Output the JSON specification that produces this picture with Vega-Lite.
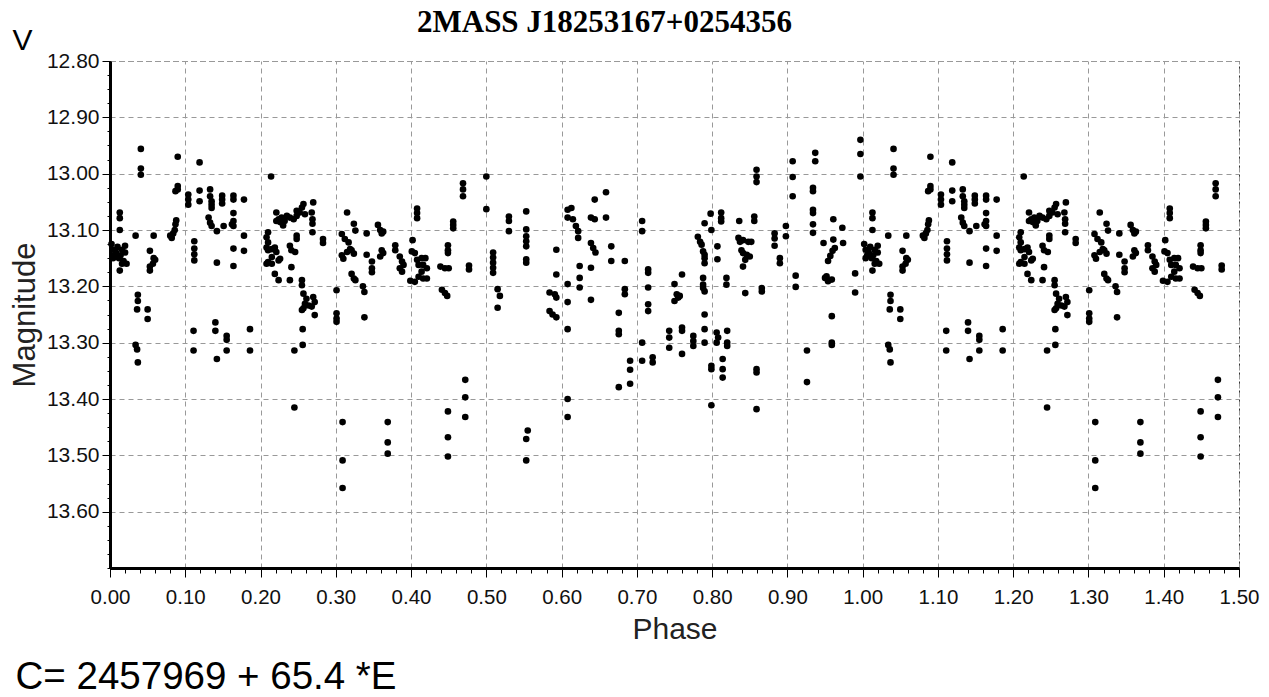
{
"$schema": "https://vega.github.io/schema/vega-lite/v6.json",
"width": 1129,
"height": 507,
"autosize": {"type": "none"},
"padding": {"left": 110, "top": 61, "right": 30, "bottom": 129},
"background": "white",
"config": {"view": {"stroke": "#333333", "strokeDash": [5, 4], "strokeWidth": 1}},
"data": {"values": [
{"phase":0.013,"mag":13.069},{"phase":0.013,"mag":13.079},{"phase":0.013,"mag":13.100},{"phase":0.002,"mag":13.125},{"phase":0.004,"mag":13.135},{"phase":0.006,"mag":13.145},{"phase":0.008,"mag":13.140},{"phase":0.010,"mag":13.130},{"phase":0.012,"mag":13.150},{"phase":0.014,"mag":13.145},{"phase":0.016,"mag":13.135},{"phase":0.018,"mag":13.155},{"phase":0.020,"mag":13.140},{"phase":0.022,"mag":13.160},{"phase":0.004,"mag":13.150},{"phase":0.016,"mag":13.160},{"phase":0.020,"mag":13.128},{"phase":0.013,"mag":13.172},{"phase":0.034,"mag":13.110},{"phase":0.058,"mag":13.110},{"phase":0.053,"mag":13.137},{"phase":0.058,"mag":13.150},{"phase":0.060,"mag":13.153},{"phase":0.057,"mag":13.160},{"phase":0.053,"mag":13.165},{"phase":0.053,"mag":13.172},{"phase":0.041,"mag":12.956},{"phase":0.041,"mag":12.991},{"phase":0.041,"mag":13.002},{"phase":0.037,"mag":13.215},{"phase":0.037,"mag":13.226},{"phase":0.036,"mag":13.241},{"phase":0.050,"mag":13.241},{"phase":0.050,"mag":13.258},{"phase":0.034,"mag":13.304},{"phase":0.036,"mag":13.312},{"phase":0.037,"mag":13.335},{"phase":0.090,"mag":12.970},{"phase":0.090,"mag":13.022},{"phase":0.090,"mag":13.028},{"phase":0.087,"mag":13.031},{"phase":0.080,"mag":13.110},{"phase":0.082,"mag":13.114},{"phase":0.084,"mag":13.106},{"phase":0.086,"mag":13.100},{"phase":0.087,"mag":13.090},{"phase":0.088,"mag":13.083},{"phase":0.112,"mag":13.120},{"phase":0.112,"mag":13.133},{"phase":0.112,"mag":13.143},{"phase":0.112,"mag":13.154},
{"phase":0.119,"mag":12.980},{"phase":0.104,"mag":13.037},{"phase":0.104,"mag":13.046},{"phase":0.104,"mag":13.055},{"phase":0.119,"mag":13.030},{"phase":0.119,"mag":13.049},{"phase":0.133,"mag":13.028},{"phase":0.133,"mag":13.040},{"phase":0.135,"mag":13.049},{"phase":0.135,"mag":13.055},{"phase":0.135,"mag":13.061},{"phase":0.149,"mag":13.039},{"phase":0.149,"mag":13.046},{"phase":0.149,"mag":13.053},{"phase":0.164,"mag":13.039},{"phase":0.164,"mag":13.046},{"phase":0.178,"mag":13.046},{"phase":0.131,"mag":13.078},{"phase":0.133,"mag":13.087},{"phase":0.135,"mag":13.093},{"phase":0.142,"mag":13.102},{"phase":0.151,"mag":13.093},{"phase":0.164,"mag":13.070},{"phase":0.164,"mag":13.084},{"phase":0.162,"mag":13.090},{"phase":0.164,"mag":13.093},{"phase":0.178,"mag":13.110},{"phase":0.178,"mag":13.137},{"phase":0.164,"mag":13.133},{"phase":0.142,"mag":13.158},{"phase":0.164,"mag":13.164},{"phase":0.111,"mag":13.279},{"phase":0.111,"mag":13.314},{"phase":0.140,"mag":13.264},{"phase":0.140,"mag":13.279},{"phase":0.155,"mag":13.288},{"phase":0.155,"mag":13.295},{"phase":0.155,"mag":13.314},{"phase":0.142,"mag":13.329},{"phase":0.186,"mag":13.276},{"phase":0.186,"mag":13.314},
{"phase":0.214,"mag":13.005},{"phase":0.221,"mag":13.069},{"phase":0.224,"mag":13.081},{"phase":0.228,"mag":13.078},{"phase":0.232,"mag":13.084},{"phase":0.235,"mag":13.075},{"phase":0.239,"mag":13.078},{"phase":0.244,"mag":13.081},{"phase":0.248,"mag":13.075},{"phase":0.252,"mag":13.069},{"phase":0.255,"mag":13.060},{"phase":0.257,"mag":13.054},{"phase":0.270,"mag":13.051},{"phase":0.268,"mag":13.069},{"phase":0.269,"mag":13.081},{"phase":0.269,"mag":13.089},{"phase":0.269,"mag":13.104},{"phase":0.230,"mag":13.092},{"phase":0.226,"mag":13.086},{"phase":0.221,"mag":13.084},{"phase":0.248,"mag":13.066},{"phase":0.259,"mag":13.072},{"phase":0.210,"mag":13.104},{"phase":0.208,"mag":13.113},{"phase":0.210,"mag":13.122},{"phase":0.208,"mag":13.131},{"phase":0.210,"mag":13.136},{"phase":0.215,"mag":13.134},{"phase":0.219,"mag":13.131},{"phase":0.221,"mag":13.139},{"phase":0.215,"mag":13.148},{"phase":0.210,"mag":13.157},{"phase":0.208,"mag":13.160},{"phase":0.215,"mag":13.160},{"phase":0.224,"mag":13.154},{"phase":0.226,"mag":13.151},{"phase":0.219,"mag":13.178},{"phase":0.224,"mag":13.189},{"phase":0.239,"mag":13.189},{"phase":0.241,"mag":13.166},{"phase":0.248,"mag":13.110},{"phase":0.248,"mag":13.116},{"phase":0.239,"mag":13.128},{"phase":0.241,"mag":13.136},{"phase":0.246,"mag":13.139},{"phase":0.283,"mag":13.116},{"phase":0.283,"mag":13.123},{"phase":0.255,"mag":13.189},{"phase":0.255,"mag":13.198},{"phase":0.257,"mag":13.213},{"phase":0.261,"mag":13.222},{"phase":0.259,"mag":13.231},{"phase":0.257,"mag":13.239},{"phase":0.255,"mag":13.242},{"phase":0.264,"mag":13.234},{"phase":0.270,"mag":13.219},{"phase":0.272,"mag":13.228},{"phase":0.272,"mag":13.251},{"phase":0.268,"mag":13.236},{"phase":0.256,"mag":13.276},{"phase":0.256,"mag":13.304},{"phase":0.245,"mag":13.314},{"phase":0.245,"mag":13.415},
{"phase":0.315,"mag":13.069},{"phase":0.324,"mag":13.089},{"phase":0.326,"mag":13.101},{"phase":0.308,"mag":13.107},{"phase":0.312,"mag":13.116},{"phase":0.317,"mag":13.122},{"phase":0.319,"mag":13.134},{"phase":0.315,"mag":13.139},{"phase":0.308,"mag":13.145},{"phase":0.310,"mag":13.151},{"phase":0.321,"mag":13.136},{"phase":0.324,"mag":13.142},{"phase":0.321,"mag":13.178},{"phase":0.324,"mag":13.186},{"phase":0.326,"mag":13.189},{"phase":0.301,"mag":13.207},{"phase":0.301,"mag":13.248},{"phase":0.301,"mag":13.257},{"phase":0.301,"mag":13.263},{"phase":0.336,"mag":13.200},{"phase":0.338,"mag":13.210},{"phase":0.338,"mag":13.255},{"phase":0.309,"mag":13.441},{"phase":0.309,"mag":13.509},{"phase":0.309,"mag":13.558},{"phase":0.369,"mag":13.441},{"phase":0.369,"mag":13.477},{"phase":0.369,"mag":13.497},{"phase":0.341,"mag":13.106},{"phase":0.356,"mag":13.091},{"phase":0.359,"mag":13.100},{"phase":0.361,"mag":13.106},{"phase":0.363,"mag":13.103},{"phase":0.341,"mag":13.144},{"phase":0.348,"mag":13.156},{"phase":0.348,"mag":13.168},{"phase":0.348,"mag":13.175},{"phase":0.361,"mag":13.136},{"phase":0.363,"mag":13.141},{"phase":0.359,"mag":13.147},{"phase":0.379,"mag":13.127},{"phase":0.379,"mag":13.136},{"phase":0.385,"mag":13.147},{"phase":0.388,"mag":13.156},{"phase":0.390,"mag":13.162},{"phase":0.385,"mag":13.168},{"phase":0.388,"mag":13.174},{"phase":0.402,"mag":13.118},{"phase":0.401,"mag":13.138},{"phase":0.405,"mag":13.141},{"phase":0.408,"mag":13.153},{"phase":0.414,"mag":13.150},{"phase":0.419,"mag":13.150},{"phase":0.410,"mag":13.162},{"phase":0.416,"mag":13.162},{"phase":0.421,"mag":13.168},{"phase":0.414,"mag":13.174},{"phase":0.410,"mag":13.183},{"phase":0.416,"mag":13.186},{"phase":0.405,"mag":13.192},{"phase":0.399,"mag":13.190},{"phase":0.421,"mag":13.186},{"phase":0.408,"mag":13.062},{"phase":0.408,"mag":13.070},{"phase":0.408,"mag":13.079},
{"phase":0.439,"mag":13.165},{"phase":0.445,"mag":13.168},{"phase":0.450,"mag":13.168},{"phase":0.441,"mag":13.206},{"phase":0.445,"mag":13.212},{"phase":0.448,"mag":13.217},{"phase":0.449,"mag":13.127},{"phase":0.449,"mag":13.136},{"phase":0.449,"mag":13.141},{"phase":0.456,"mag":13.085},{"phase":0.456,"mag":13.091},{"phase":0.456,"mag":13.097},{"phase":0.477,"mag":13.163},{"phase":0.477,"mag":13.170},{"phase":0.469,"mag":13.017},{"phase":0.469,"mag":13.028},{"phase":0.469,"mag":13.040},{"phase":0.449,"mag":13.422},{"phase":0.449,"mag":13.468},{"phase":0.449,"mag":13.502},{"phase":0.472,"mag":13.366},{"phase":0.472,"mag":13.397},{"phase":0.472,"mag":13.432},
{"phase":0.500,"mag":13.005},{"phase":0.500,"mag":13.063},{"phase":0.530,"mag":13.076},{"phase":0.530,"mag":13.084},{"phase":0.530,"mag":13.102},{"phase":0.509,"mag":13.140},{"phase":0.509,"mag":13.149},{"phase":0.509,"mag":13.158},{"phase":0.509,"mag":13.167},{"phase":0.509,"mag":13.176},{"phase":0.515,"mag":13.205},{"phase":0.518,"mag":13.217},{"phase":0.515,"mag":13.238},{"phase":0.553,"mag":13.067},{"phase":0.553,"mag":13.099},{"phase":0.553,"mag":13.111},{"phase":0.553,"mag":13.120},{"phase":0.553,"mag":13.129},{"phase":0.553,"mag":13.152},{"phase":0.553,"mag":13.158},{"phase":0.555,"mag":13.456},{"phase":0.553,"mag":13.471},{"phase":0.553,"mag":13.509},{"phase":0.593,"mag":13.135},{"phase":0.593,"mag":13.179},{"phase":0.584,"mag":13.211},{"phase":0.591,"mag":13.214},{"phase":0.593,"mag":13.220},{"phase":0.584,"mag":13.244},{"phase":0.588,"mag":13.250},{"phase":0.593,"mag":13.255},
{"phase":0.608,"mag":13.064},{"phase":0.613,"mag":13.061},{"phase":0.608,"mag":13.078},{"phase":0.615,"mag":13.081},{"phase":0.619,"mag":13.093},{"phase":0.622,"mag":13.102},{"phase":0.622,"mag":13.114},{"phase":0.608,"mag":13.196},{"phase":0.608,"mag":13.228},{"phase":0.608,"mag":13.276},{"phase":0.608,"mag":13.400},{"phase":0.608,"mag":13.432},{"phase":0.624,"mag":13.164},{"phase":0.624,"mag":13.185},{"phase":0.624,"mag":13.202},{"phase":0.639,"mag":13.078},{"phase":0.644,"mag":13.081},{"phase":0.644,"mag":13.046},{"phase":0.659,"mag":13.033},{"phase":0.659,"mag":13.078},{"phase":0.639,"mag":13.123},{"phase":0.642,"mag":13.132},{"phase":0.645,"mag":13.140},{"phase":0.639,"mag":13.167},{"phase":0.639,"mag":13.224},{"phase":0.666,"mag":13.129},{"phase":0.666,"mag":13.155},{"phase":0.684,"mag":13.155},{"phase":0.684,"mag":13.205},{"phase":0.684,"mag":13.214},{"phase":0.676,"mag":13.247},{"phase":0.676,"mag":13.279},{"phase":0.676,"mag":13.285},{"phase":0.676,"mag":13.379},{"phase":0.691,"mag":13.332},{"phase":0.691,"mag":13.348},{"phase":0.691,"mag":13.373},
{"phase":0.707,"mag":13.084},{"phase":0.707,"mag":13.102},{"phase":0.715,"mag":13.170},{"phase":0.715,"mag":13.176},{"phase":0.715,"mag":13.202},{"phase":0.715,"mag":13.232},{"phase":0.715,"mag":13.244},{"phase":0.707,"mag":13.300},{"phase":0.707,"mag":13.332},{"phase":0.721,"mag":13.326},{"phase":0.721,"mag":13.335},{"phase":0.743,"mag":13.279},{"phase":0.743,"mag":13.291},{"phase":0.743,"mag":13.309},{"phase":0.760,"mag":13.179},{"phase":0.750,"mag":13.196},{"phase":0.753,"mag":13.214},{"phase":0.755,"mag":13.220},{"phase":0.757,"mag":13.217},{"phase":0.750,"mag":13.226},{"phase":0.760,"mag":13.273},{"phase":0.760,"mag":13.279},{"phase":0.760,"mag":13.320},{"phase":0.775,"mag":13.288},{"phase":0.775,"mag":13.297},{"phase":0.775,"mag":13.306},{"phase":0.798,"mag":13.071},{"phase":0.812,"mag":13.069},{"phase":0.812,"mag":13.079},{"phase":0.812,"mag":13.085},{"phase":0.790,"mag":13.088},{"phase":0.799,"mag":13.100},{"phase":0.781,"mag":13.112},{"phase":0.784,"mag":13.121},{"phase":0.786,"mag":13.126},{"phase":0.788,"mag":13.138},{"phase":0.790,"mag":13.144},{"phase":0.790,"mag":13.150},{"phase":0.790,"mag":13.159},{"phase":0.807,"mag":13.129},{"phase":0.807,"mag":13.152},{"phase":0.788,"mag":13.185},{"phase":0.788,"mag":13.197},{"phase":0.788,"mag":13.203},{"phase":0.790,"mag":13.209},{"phase":0.819,"mag":13.185},{"phase":0.819,"mag":13.197},{"phase":0.790,"mag":13.250},{"phase":0.790,"mag":13.276},{"phase":0.790,"mag":13.300},{"phase":0.806,"mag":13.282},{"phase":0.808,"mag":13.291},{"phase":0.806,"mag":13.300},{"phase":0.820,"mag":13.279},{"phase":0.820,"mag":13.300},{"phase":0.820,"mag":13.306},{"phase":0.799,"mag":13.341},{"phase":0.799,"mag":13.347},{"phase":0.814,"mag":13.329},{"phase":0.814,"mag":13.347},{"phase":0.814,"mag":13.362},{"phase":0.799,"mag":13.411},
{"phase":0.836,"mag":13.084},{"phase":0.856,"mag":13.076},{"phase":0.856,"mag":13.084},{"phase":0.835,"mag":13.114},{"phase":0.837,"mag":13.121},{"phase":0.841,"mag":13.118},{"phase":0.848,"mag":13.121},{"phase":0.852,"mag":13.121},{"phase":0.839,"mag":13.136},{"phase":0.841,"mag":13.141},{"phase":0.846,"mag":13.144},{"phase":0.850,"mag":13.147},{"phase":0.844,"mag":13.153},{"phase":0.841,"mag":13.165},{"phase":0.883,"mag":13.106},{"phase":0.883,"mag":13.115},{"phase":0.883,"mag":13.128},{"phase":0.890,"mag":13.150},{"phase":0.890,"mag":13.159},{"phase":0.898,"mag":13.093},{"phase":0.898,"mag":13.111},{"phase":0.911,"mag":13.181},{"phase":0.911,"mag":13.201},{"phase":0.844,"mag":13.212},{"phase":0.866,"mag":13.203},{"phase":0.866,"mag":13.209},{"phase":0.859,"mag":12.993},{"phase":0.859,"mag":13.005},{"phase":0.859,"mag":13.015},{"phase":0.859,"mag":13.347},{"phase":0.859,"mag":13.353},{"phase":0.859,"mag":13.418},{"phase":0.907,"mag":12.978},{"phase":0.907,"mag":13.006},{"phase":0.907,"mag":13.040},{"phase":0.926,"mag":13.314},{"phase":0.926,"mag":13.370},{"phase":0.937,"mag":12.963},{"phase":0.937,"mag":12.978},{"phase":0.934,"mag":13.025},{"phase":0.934,"mag":13.031},{"phase":0.934,"mag":13.064},{"phase":0.934,"mag":13.070},{"phase":0.934,"mag":13.090},{"phase":0.934,"mag":13.105},{"phase":0.961,"mag":13.081},{"phase":0.973,"mag":13.096},{"phase":0.974,"mag":13.123},{"phase":0.948,"mag":13.123},{"phase":0.961,"mag":13.117},{"phase":0.963,"mag":13.132},{"phase":0.960,"mag":13.137},{"phase":0.957,"mag":13.146},{"phase":0.954,"mag":13.155},{"phase":0.952,"mag":13.182},{"phase":0.954,"mag":13.191},{"phase":0.959,"mag":13.188},{"phase":0.950,"mag":13.185},{"phase":0.959,"mag":13.253},{"phase":0.959,"mag":13.300},{"phase":0.959,"mag":13.304},{"phase":0.990,"mag":13.177},{"phase":0.990,"mag":13.211},{"phase":0.997,"mag":12.940},{"phase":0.997,"mag":12.965},{"phase":0.997,"mag":13.005},
{"phase":1.013,"mag":13.069},{"phase":1.013,"mag":13.079},{"phase":1.013,"mag":13.100},{"phase":1.002,"mag":13.125},{"phase":1.004,"mag":13.135},{"phase":1.006,"mag":13.145},{"phase":1.008,"mag":13.140},{"phase":1.010,"mag":13.130},{"phase":1.012,"mag":13.150},{"phase":1.014,"mag":13.145},{"phase":1.016,"mag":13.135},{"phase":1.018,"mag":13.155},{"phase":1.020,"mag":13.140},{"phase":1.022,"mag":13.160},{"phase":1.004,"mag":13.150},{"phase":1.016,"mag":13.160},{"phase":1.020,"mag":13.128},{"phase":1.013,"mag":13.172},{"phase":1.034,"mag":13.110},{"phase":1.058,"mag":13.110},{"phase":1.053,"mag":13.137},{"phase":1.058,"mag":13.150},{"phase":1.060,"mag":13.153},{"phase":1.057,"mag":13.160},{"phase":1.053,"mag":13.165},{"phase":1.053,"mag":13.172},{"phase":1.041,"mag":12.956},{"phase":1.041,"mag":12.991},{"phase":1.041,"mag":13.002},{"phase":1.037,"mag":13.215},{"phase":1.037,"mag":13.226},{"phase":1.036,"mag":13.241},{"phase":1.050,"mag":13.241},{"phase":1.050,"mag":13.258},{"phase":1.034,"mag":13.304},{"phase":1.036,"mag":13.312},{"phase":1.037,"mag":13.335},{"phase":1.090,"mag":12.970},{"phase":1.090,"mag":13.022},{"phase":1.090,"mag":13.028},{"phase":1.087,"mag":13.031},{"phase":1.080,"mag":13.110},{"phase":1.082,"mag":13.114},{"phase":1.084,"mag":13.106},{"phase":1.086,"mag":13.100},{"phase":1.087,"mag":13.090},{"phase":1.088,"mag":13.083},{"phase":1.112,"mag":13.120},{"phase":1.112,"mag":13.133},{"phase":1.112,"mag":13.143},{"phase":1.112,"mag":13.154},
{"phase":1.119,"mag":12.980},{"phase":1.104,"mag":13.037},{"phase":1.104,"mag":13.046},{"phase":1.104,"mag":13.055},{"phase":1.119,"mag":13.030},{"phase":1.119,"mag":13.049},{"phase":1.133,"mag":13.028},{"phase":1.133,"mag":13.040},{"phase":1.135,"mag":13.049},{"phase":1.135,"mag":13.055},{"phase":1.135,"mag":13.061},{"phase":1.149,"mag":13.039},{"phase":1.149,"mag":13.046},{"phase":1.149,"mag":13.053},{"phase":1.164,"mag":13.039},{"phase":1.164,"mag":13.046},{"phase":1.178,"mag":13.046},{"phase":1.131,"mag":13.078},{"phase":1.133,"mag":13.087},{"phase":1.135,"mag":13.093},{"phase":1.142,"mag":13.102},{"phase":1.151,"mag":13.093},{"phase":1.164,"mag":13.070},{"phase":1.164,"mag":13.084},{"phase":1.162,"mag":13.090},{"phase":1.164,"mag":13.093},{"phase":1.178,"mag":13.110},{"phase":1.178,"mag":13.137},{"phase":1.164,"mag":13.133},{"phase":1.142,"mag":13.158},{"phase":1.164,"mag":13.164},{"phase":1.111,"mag":13.279},{"phase":1.111,"mag":13.314},{"phase":1.140,"mag":13.264},{"phase":1.140,"mag":13.279},{"phase":1.155,"mag":13.288},{"phase":1.155,"mag":13.295},{"phase":1.155,"mag":13.314},{"phase":1.142,"mag":13.329},{"phase":1.186,"mag":13.276},{"phase":1.186,"mag":13.314},
{"phase":1.214,"mag":13.005},{"phase":1.221,"mag":13.069},{"phase":1.224,"mag":13.081},{"phase":1.228,"mag":13.078},{"phase":1.232,"mag":13.084},{"phase":1.235,"mag":13.075},{"phase":1.239,"mag":13.078},{"phase":1.244,"mag":13.081},{"phase":1.248,"mag":13.075},{"phase":1.252,"mag":13.069},{"phase":1.255,"mag":13.060},{"phase":1.257,"mag":13.054},{"phase":1.270,"mag":13.051},{"phase":1.268,"mag":13.069},{"phase":1.269,"mag":13.081},{"phase":1.269,"mag":13.089},{"phase":1.269,"mag":13.104},{"phase":1.230,"mag":13.092},{"phase":1.226,"mag":13.086},{"phase":1.221,"mag":13.084},{"phase":1.248,"mag":13.066},{"phase":1.259,"mag":13.072},{"phase":1.210,"mag":13.104},{"phase":1.208,"mag":13.113},{"phase":1.210,"mag":13.122},{"phase":1.208,"mag":13.131},{"phase":1.210,"mag":13.136},{"phase":1.215,"mag":13.134},{"phase":1.219,"mag":13.131},{"phase":1.221,"mag":13.139},{"phase":1.215,"mag":13.148},{"phase":1.210,"mag":13.157},{"phase":1.208,"mag":13.160},{"phase":1.215,"mag":13.160},{"phase":1.224,"mag":13.154},{"phase":1.226,"mag":13.151},{"phase":1.219,"mag":13.178},{"phase":1.224,"mag":13.189},{"phase":1.239,"mag":13.189},{"phase":1.241,"mag":13.166},{"phase":1.248,"mag":13.110},{"phase":1.248,"mag":13.116},{"phase":1.239,"mag":13.128},{"phase":1.241,"mag":13.136},{"phase":1.246,"mag":13.139},{"phase":1.283,"mag":13.116},{"phase":1.283,"mag":13.123},{"phase":1.255,"mag":13.189},{"phase":1.255,"mag":13.198},{"phase":1.257,"mag":13.213},{"phase":1.261,"mag":13.222},{"phase":1.259,"mag":13.231},{"phase":1.257,"mag":13.239},{"phase":1.255,"mag":13.242},{"phase":1.264,"mag":13.234},{"phase":1.270,"mag":13.219},{"phase":1.272,"mag":13.228},{"phase":1.272,"mag":13.251},{"phase":1.268,"mag":13.236},{"phase":1.256,"mag":13.276},{"phase":1.256,"mag":13.304},{"phase":1.245,"mag":13.314},{"phase":1.245,"mag":13.415},
{"phase":1.315,"mag":13.069},{"phase":1.324,"mag":13.089},{"phase":1.326,"mag":13.101},{"phase":1.308,"mag":13.107},{"phase":1.312,"mag":13.116},{"phase":1.317,"mag":13.122},{"phase":1.319,"mag":13.134},{"phase":1.315,"mag":13.139},{"phase":1.308,"mag":13.145},{"phase":1.310,"mag":13.151},{"phase":1.321,"mag":13.136},{"phase":1.324,"mag":13.142},{"phase":1.321,"mag":13.178},{"phase":1.324,"mag":13.186},{"phase":1.326,"mag":13.189},{"phase":1.301,"mag":13.207},{"phase":1.301,"mag":13.248},{"phase":1.301,"mag":13.257},{"phase":1.301,"mag":13.263},{"phase":1.336,"mag":13.200},{"phase":1.338,"mag":13.210},{"phase":1.338,"mag":13.255},{"phase":1.309,"mag":13.441},{"phase":1.309,"mag":13.509},{"phase":1.309,"mag":13.558},{"phase":1.369,"mag":13.441},{"phase":1.369,"mag":13.477},{"phase":1.369,"mag":13.497},{"phase":1.341,"mag":13.106},{"phase":1.356,"mag":13.091},{"phase":1.359,"mag":13.100},{"phase":1.361,"mag":13.106},{"phase":1.363,"mag":13.103},{"phase":1.341,"mag":13.144},{"phase":1.348,"mag":13.156},{"phase":1.348,"mag":13.168},{"phase":1.348,"mag":13.175},{"phase":1.361,"mag":13.136},{"phase":1.363,"mag":13.141},{"phase":1.359,"mag":13.147},{"phase":1.379,"mag":13.127},{"phase":1.379,"mag":13.136},{"phase":1.385,"mag":13.147},{"phase":1.388,"mag":13.156},{"phase":1.390,"mag":13.162},{"phase":1.385,"mag":13.168},{"phase":1.388,"mag":13.174},{"phase":1.402,"mag":13.118},{"phase":1.401,"mag":13.138},{"phase":1.405,"mag":13.141},{"phase":1.408,"mag":13.153},{"phase":1.414,"mag":13.150},{"phase":1.419,"mag":13.150},{"phase":1.410,"mag":13.162},{"phase":1.416,"mag":13.162},{"phase":1.421,"mag":13.168},{"phase":1.414,"mag":13.174},{"phase":1.410,"mag":13.183},{"phase":1.416,"mag":13.186},{"phase":1.405,"mag":13.192},{"phase":1.399,"mag":13.190},{"phase":1.421,"mag":13.186},{"phase":1.408,"mag":13.062},{"phase":1.408,"mag":13.070},{"phase":1.408,"mag":13.079},
{"phase":1.439,"mag":13.165},{"phase":1.445,"mag":13.168},{"phase":1.450,"mag":13.168},{"phase":1.441,"mag":13.206},{"phase":1.445,"mag":13.212},{"phase":1.448,"mag":13.217},{"phase":1.449,"mag":13.127},{"phase":1.449,"mag":13.136},{"phase":1.449,"mag":13.141},{"phase":1.456,"mag":13.085},{"phase":1.456,"mag":13.091},{"phase":1.456,"mag":13.097},{"phase":1.477,"mag":13.163},{"phase":1.477,"mag":13.170},{"phase":1.469,"mag":13.017},{"phase":1.469,"mag":13.028},{"phase":1.469,"mag":13.040},{"phase":1.449,"mag":13.422},{"phase":1.449,"mag":13.468},{"phase":1.449,"mag":13.502},{"phase":1.472,"mag":13.366},{"phase":1.472,"mag":13.397},{"phase":1.472,"mag":13.432}
]},
"layer": [
{
"mark": {"type": "point", "filled": true, "shape": "circle", "size": 44, "color": "black", "opacity": 1},
"encoding": {
"x": {"field": "phase", "type": "quantitative", "scale": {"domain": [0, 1.5], "nice": false, "zero": false},
 "axis": {"values": [0,0.1,0.2,0.3,0.4,0.5,0.6,0.7,0.8,0.9,1.0,1.1,1.2,1.3,1.4,1.5], "format": ".2f", "grid": true, "gridColor": "#999999", "gridDash": [5,4], "gridWidth": 1, "domain": true, "domainColor": "black", "domainWidth": 3, "ticks": true, "tickColor": "black", "tickSize": 9, "tickWidth": 1, "labelFont": "Liberation Sans", "labelFontSize": 20.5, "labelColor": "#111111", "labelPadding": 10, "labelFlush": false, "labelOverlap": false, "title": "Phase", "titleFont": "Liberation Sans", "titleFontSize": 30, "titleFontWeight": "normal", "titleColor": "#222222", "titleY": 70, "titleBaseline": "alphabetic"}},
"y": {"field": "mag", "type": "quantitative", "scale": {"domain": [12.8, 13.7], "reverse": true, "nice": false, "zero": false},
 "axis": {"values": [12.8,12.9,13.0,13.1,13.2,13.3,13.4,13.5,13.6], "format": ".2f", "grid": true, "gridColor": "#999999", "gridDash": [5,4], "gridWidth": 1, "domain": true, "domainColor": "black", "domainWidth": 3, "ticks": true, "tickColor": "black", "tickSize": 8, "tickWidth": 1, "labelFont": "Liberation Sans", "labelFontSize": 21, "labelColor": "#111111", "labelPadding": 3, "labelFlush": false, "labelOverlap": false, "title": "Magnitude", "titleFont": "Liberation Sans", "titleFontSize": 31, "titleFontWeight": "normal", "titleColor": "#222222", "titleX": -85, "titleBaseline": "middle"}}
}
},
{
"mark": {"type": "point", "opacity": 0},
"encoding": {
"x": {"field": "phase", "type": "quantitative",
 "axis": {"orient": "bottom", "values": [0,0.02,0.04,0.06,0.08,0.1,0.12,0.14,0.16,0.18,0.2,0.22,0.24,0.26,0.28,0.3,0.32,0.34,0.36,0.38,0.4,0.42,0.44,0.46,0.48,0.5,0.52,0.54,0.56,0.58,0.6,0.62,0.64,0.66,0.68,0.7,0.72,0.74,0.76,0.78,0.8,0.82,0.84,0.86,0.88,0.9,0.92,0.94,0.96,0.98,1.0,1.02,1.04,1.06,1.08,1.1,1.12,1.14,1.16,1.18,1.2,1.22,1.24,1.26,1.28,1.3,1.32,1.34,1.36,1.38,1.4,1.42,1.44,1.46,1.48,1.5], "labels": false, "grid": false, "domain": false, "ticks": true, "tickColor": "black", "tickSize": 5, "tickWidth": 1, "title": "C= 2457969 + 65.4 *E", "titleFont": "Liberation Sans", "titleFontSize": 38.5, "titleFontWeight": "normal", "titleColor": "black", "titleAlign": "left", "titleX": -95, "titleY": 120, "titleBaseline": "alphabetic"}},
"y": {"field": "mag", "type": "quantitative",
 "axis": {"orient": "left", "values": [12.8,12.825,12.85,12.875,12.9,12.925,12.95,12.975,13.0,13.025,13.05,13.075,13.1,13.125,13.15,13.175,13.2,13.225,13.25,13.275,13.3,13.325,13.35,13.375,13.4,13.425,13.45,13.475,13.5,13.525,13.55,13.575,13.6,13.625,13.65,13.675,13.7], "labels": false, "grid": false, "domain": false, "ticks": true, "tickColor": "black", "tickSize": 3, "tickWidth": 1, "title": "V", "titleFont": "Liberation Sans", "titleFontSize": 30, "titleFontWeight": "normal", "titleColor": "black", "titleAngle": 0, "titleAlign": "center", "titleBaseline": "middle", "titleX": -88, "titleY": -21}}
}
},
{
"mark": {"type": "point", "opacity": 0},
"encoding": {
"x": {"field": "phase", "type": "quantitative",
 "axis": {"orient": "top", "values": [], "labels": false, "grid": false, "domain": false, "ticks": false, "title": "2MASS J18253167+0254356", "titleFont": "Liberation Serif", "titleFontSize": 31, "titleFontWeight": "bold", "titleColor": "black", "titleAlign": "center", "titleX": 494, "titleY": -30, "titleBaseline": "alphabetic"}},
"y": {"field": "mag", "type": "quantitative", "axis": null}
}
}
],
"resolve": {"axis": {"x": "independent", "y": "independent"}}
}
